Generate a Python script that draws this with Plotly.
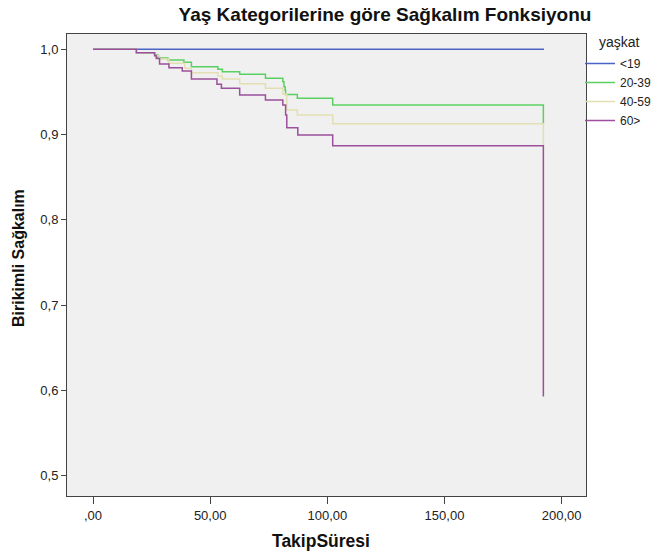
import plotly.graph_objects as go

# ---- data ----
groups = ["<19", "20-39", "40-59", "60>"]
line_colors = ["#4a63c4", "#5ccf62", "#e3dfb2", "#9c4f9c"]

t_lt19 = [0.0, 192.5]
s_lt19 = [1.0, 1.0]

t_20_39 = [0.0, 18.5, 26.3, 27.7, 32.0, 38.8, 42.0, 53.3, 55.2, 62.6, 73.6,
           81.0, 81.5, 82.0, 82.2, 87.2, 102.3, 192.2]
s_20_39 = [1.0, 0.996, 0.9933, 0.990, 0.9875, 0.9848, 0.9796, 0.9766, 0.9737,
           0.9707, 0.966, 0.962, 0.956, 0.952, 0.947, 0.9426, 0.9347, 0.913]

t_40_59 = [0.0, 18.5, 26.3, 28.4, 32.3, 39.1, 42.0, 53.3, 55.2, 62.6, 73.6,
           81.0, 82.7, 87.2, 102.3, 192.2]
s_40_59 = [1.0, 0.996, 0.9925, 0.9886, 0.9836, 0.9777, 0.9726, 0.9687, 0.9652,
           0.9597, 0.9543, 0.9472, 0.9288, 0.923, 0.9128, 0.887]

t_60 = [0.0, 18.5, 26.3, 27.0, 28.4, 32.4, 38.1, 42.0, 52.9, 54.8, 62.6, 73.6,
        81.0, 82.2, 82.7, 87.4, 102.3, 192.2]
s_60 = [1.0, 0.996, 0.9925, 0.9894, 0.9828, 0.9784, 0.9746, 0.9652, 0.959,
        0.9543, 0.9464, 0.9406, 0.9347, 0.923, 0.908, 0.8995, 0.887, 0.593]

x_tickvals = [0, 50, 100, 150, 200]
x_ticktext = [",00", "50,00", "100,00", "150,00", "200,00"]
y_tickvals = [0.5, 0.6, 0.7, 0.8, 0.9, 1.0]
y_ticktext = ["0,5", "0,6", "0,7", "0,8", "0,9", "1,0"]

title_text = "Yaş Kategorilerine göre Sağkalım Fonksiyonu"
x_title = "TakipSüresi"
y_title = "Birikimli Sağkalım"
legend_title = "yaşkat"

FONT = "Liberation Sans, Arial, sans-serif"

fig = go.Figure()
series = [(t_lt19, s_lt19), (t_20_39, s_20_39), (t_40_59, s_40_59), (t_60, s_60)]
for name, color, (t, s) in zip(groups, line_colors, series):
    fig.add_trace(go.Scatter(
        x=t, y=s, mode="lines", name=name,
        line=dict(color=color, width=1.5, shape="hv"),
    ))

fig.update_layout(
    width=654, height=556,
    margin=dict(l=67, r=68, t=34, b=60, autoexpand=False),
    paper_bgcolor="white",
    plot_bgcolor="#f0f0f0",
    font=dict(family=FONT, size=13, color="#222"),
    title=dict(text="<b>" + title_text + "</b>", x=385 / 654, xanchor="center",
               y=1 - 14 / 556, yanchor="middle",
               font=dict(family=FONT, size=19, color="#111")),
    showlegend=True,
    legend=dict(x=(580 - 67) / 519, xanchor="left", y=1 - (49 - 34) / 462, yanchor="top",
                bgcolor="rgba(0,0,0,0)", font=dict(family=FONT, size=12, color="#222"),
                itemwidth=30, tracegroupgap=0),
    xaxis=dict(range=[-11.1, 210.4], tickvals=x_tickvals, ticktext=x_ticktext,
               showgrid=False, zeroline=False, showline=True, mirror=True,
               linecolor="#444", linewidth=1, ticks="outside", ticklen=7,
               tickcolor="#444", tickfont=dict(size=13, color="#222")),
    yaxis=dict(range=[0.4762, 1.018], tickvals=y_tickvals, ticktext=y_ticktext,
               showgrid=False, zeroline=False, showline=True, mirror=True,
               linecolor="#444", linewidth=1, ticks="outside", ticklen=5,
               tickcolor="#444", tickfont=dict(size=13, color="#222")),
    annotations=[
        dict(text="<b>" + x_title + "</b>", xref="paper", yref="paper",
             x=(321 - 67) / 519, y=-(541 - 496) / 462, xanchor="center", yanchor="middle",
             showarrow=False, font=dict(family=FONT, size=17.5, color="#111")),
        dict(text="<b>" + y_title + "</b>", xref="paper", yref="paper",
             x=-(67 - 18) / 519, y=1 - (258 - 34) / 462, xanchor="center", yanchor="middle",
             textangle=-90, showarrow=False, font=dict(family=FONT, size=16, color="#111")),
        dict(text=legend_title, xref="paper", yref="paper",
             x=(597 - 67) / 519, y=1 - (42 - 34) / 462, xanchor="left", yanchor="middle",
             showarrow=False, font=dict(family=FONT, size=14, color="#222")),
    ],
)

fig.write_html("out.html", config={"displayModeBar": False})
